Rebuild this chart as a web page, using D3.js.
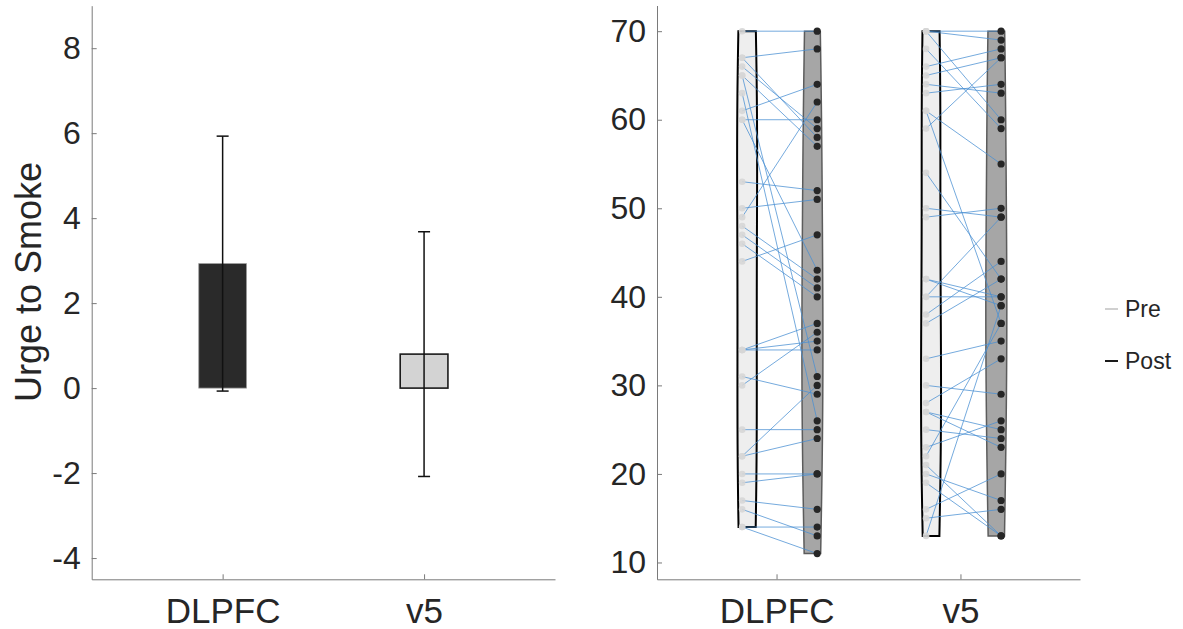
<!DOCTYPE html>
<html>
<head>
<meta charset="utf-8">
<script src="https://cdn.jsdelivr.net/npm/d3@7"></script>
<style>
  body { margin: 0; background: #fff; }
  svg { display: block; }
  text { font-family: "Liberation Sans", Arial, Helvetica, sans-serif; fill: #262626; }
</style>
</head>
<body>
<svg id="chart" width="1183" height="629"></svg>
<script>
// group names, bar chart values
var groups = ["DLPFC", "v5"];
var barMeans = [2.93, 0.80];
var barSD = [3.00, 2.88];
var barTicks = [-4, -2, 0, 2, 4, 6, 8];

// paired pre / post values, one entry per subject
var dlpfcPre  = [70, 67, 67, 66, 65, 65, 63, 61, 60, 60, 53, 50, 49, 48, 47, 46, 44, 34, 34, 34, 31, 30, 25, 22, 22, 20, 19, 17, 16, 14, 14];
var dlpfcPost = [70, 68, 58, 59, 57, 31, 26, 64, 60, 43, 52, 51, 62, 42, 41, 40, 47, 37, 35, 34, 29, 36, 25, 24, 30, 20, 20, 16, 13, 14, 11];
var v5Pre  = [70, 70, 70, 68, 66, 65, 64, 63, 61, 61, 59, 54, 50, 49, 42, 42, 40, 40, 38, 37, 33, 30, 28, 27, 27, 25, 23, 22, 21, 20, 19, 16, 15, 13];
var v5Post = [70, 69, 60, 59, 68, 67, 63, 64, 55, 37, 67, 42, 49, 50, 40, 39, 40, 49, 44, 42, 35, 29, 33, 25, 23, 24, 26, 37, 13, 17, 13, 20, 16, 39];
var pairTicks = [10, 20, 30, 40, 50, 60, 70];
var legendNames = ["Pre", "Post"];

var svg = d3.select("#chart");
var fmt = function (d) { return String(d); };

/** LEFT PANEL: BAR CHART */
var xB = d3.scaleLinear().domain([0.35, 2.65]).range([91.7, 555]);
var yB = d3.scaleLinear().domain([-4.5, 9]).range([579.3, 5.7]);
var left = svg.append("g");

var yAxB = left.append("g").attr("transform", "translate(" + xB.range()[0] + ",0)")
  .call(d3.axisLeft(yB).tickValues(barTicks).tickFormat(fmt).tickSize(-5).tickSizeOuter(0).tickPadding(11));
var xAxB = left.append("g").attr("transform", "translate(0," + yB.range()[0] + ")")
  .call(d3.axisBottom(xB).tickValues([1, 2]).tickFormat(function (d) { return groups[d - 1]; })
    .tickSize(-5).tickSizeOuter(0).tickPadding(19));

var barW = 0.237;
left.selectAll("rect.bar").data(groups).enter().append("rect")
  .attr("x", function (d, i) { return xB(i + 1 - barW / 2); })
  .attr("width", xB(barW) - xB(0))
  .attr("y", function (d, i) { return yB(Math.max(barMeans[i], 0)); })
  .attr("height", function (d, i) { return Math.abs(yB(barMeans[i]) - yB(0)); })
  .attr("fill", function (d, i) { return i == 0 ? "#2a2a2a" : "#d3d3d3"; })
  .attr("stroke", function (d, i) { return i == 0 ? "#9a9a9a" : "#1a1a1a"; })
  .attr("stroke-width", function (d, i) { return i == 0 ? 0.8 : 1.6; });

var err = left.selectAll("g.err").data(groups).enter().append("g");
err.append("line")
  .attr("x1", function (d, i) { return xB(i + 1); }).attr("x2", function (d, i) { return xB(i + 1); })
  .attr("y1", function (d, i) { return yB(barMeans[i] - barSD[i]); })
  .attr("y2", function (d, i) { return yB(barMeans[i] + barSD[i]); });
[-1, 1].forEach(function (s) {
  err.append("line")
    .attr("x1", function (d, i) { return xB(i + 1) - 6; }).attr("x2", function (d, i) { return xB(i + 1) + 6; })
    .attr("y1", function (d, i) { return yB(barMeans[i] + s * barSD[i]); })
    .attr("y2", function (d, i) { return yB(barMeans[i] + s * barSD[i]); });
});
err.selectAll("line").attr("stroke", "#111").attr("stroke-width", 1.5);

left.append("text")
  .attr("transform", "translate(41,282) rotate(-90)")
  .attr("text-anchor", "middle").style("font-size", "36px").text("Urge to Smoke");

/** RIGHT PANEL: PAIRED PRE/POST */
var xP = d3.scaleLinear().domain([0.35, 2.65]).range([657, 1080]);
var yP = d3.scaleLinear().domain([8.1, 72.9]).range([579.3, 5.5]);
var right = svg.append("g");

var yAxP = right.append("g").attr("transform", "translate(" + xP.range()[0] + ",0)")
  .call(d3.axisLeft(yP).tickValues(pairTicks).tickFormat(fmt).tickSize(-5).tickSizeOuter(0).tickPadding(11));
var xAxP = right.append("g").attr("transform", "translate(0," + yP.range()[0] + ")")
  .call(d3.axisBottom(xP).tickValues([1, 2]).tickFormat(function (d) { return groups[d - 1]; })
    .tickSize(-5).tickSizeOuter(0).tickPadding(19));

[yAxB, xAxB, yAxP, xAxP].forEach(function (ax) {
  ax.select(".domain").attr("stroke", "#7a7a7a");
  ax.selectAll(".tick line").attr("stroke", "#7a7a7a");
  ax.selectAll(".tick text").style("font-size", "32px").attr("fill", "#262626");
});
[xAxB, xAxP].forEach(function (ax) { ax.selectAll(".tick text").style("font-size", "35px"); });

// rough violin outline from a wide gaussian kernel
function violin(vals, cx, maxHalf) {
  var lo = d3.min(vals), hi = d3.max(vals), n = 60, h = 12;
  var ys = d3.range(n + 1).map(function (k) { return lo + (hi - lo) * k / n; });
  var dens = ys.map(function (y) { return d3.mean(vals, function (v) { return Math.exp(-0.5 * Math.pow((y - v) / h, 2)); }); });
  var dmax = d3.max(dens);
  var pts = ys.map(function (y, k) { return { y: y, w: maxHalf * (0.55 + 0.45 * dens[k] / dmax) }; });
  return d3.area()
    .curve(d3.curveBasis)
    .y(function (d) { return yP(d.y); })
    .x0(function (d) { return cx - d.w; })
    .x1(function (d) { return cx + d.w; })(pts);
}

var pairs = [[dlpfcPre, dlpfcPost], [v5Pre, v5Post]];
pairs.forEach(function (p, gi) {
  var c = gi + 1;
  var g = right.append("g");
  g.append("path").attr("d", violin(p[0], xP(c - 0.16), 10))
    .attr("fill", "#eeeeee").attr("stroke", "#000").attr("stroke-width", 2);
  g.append("path").attr("d", violin(p[1], xP(c + 0.195), 10.5))
    .attr("fill", "#a6a6a6").attr("stroke", "#5c5c5c").attr("stroke-width", 1.5);
  g.selectAll("line.pair").data(p[0]).enter().append("line")
    .attr("x1", xP(c - 0.187)).attr("x2", xP(c + 0.221))
    .attr("y1", function (d) { return yP(d); })
    .attr("y2", function (d, i) { return yP(p[1][i]); })
    .attr("stroke", "#4a8fd2").attr("stroke-width", 0.9).attr("stroke-opacity", 0.85);
  g.selectAll("circle.pre").data(p[0]).enter().append("circle")
    .attr("cx", xP(c - 0.187)).attr("cy", function (d) { return yP(d); }).attr("r", 3.3)
    .attr("fill", "#d6d6d6").attr("fill-opacity", 0.9);
  g.selectAll("circle.post").data(p[1]).enter().append("circle")
    .attr("cx", xP(c + 0.221)).attr("cy", function (d) { return yP(d); }).attr("r", 3.6)
    .attr("fill", "#262626");
});

// legend
var leg = svg.append("g").attr("transform", "translate(1105,309)");
legendNames.forEach(function (name, i) {
  leg.append("line").attr("x1", 0).attr("x2", 13).attr("y1", i * 52).attr("y2", i * 52)
    .attr("stroke", i == 0 ? "#d0d0d0" : "#1a1a1a").attr("stroke-width", 2);
  leg.append("text").attr("x", 20).attr("y", i * 52).attr("dy", "0.35em")
    .style("font-size", "23px").text(name);
});
</script>
</body>
</html>
